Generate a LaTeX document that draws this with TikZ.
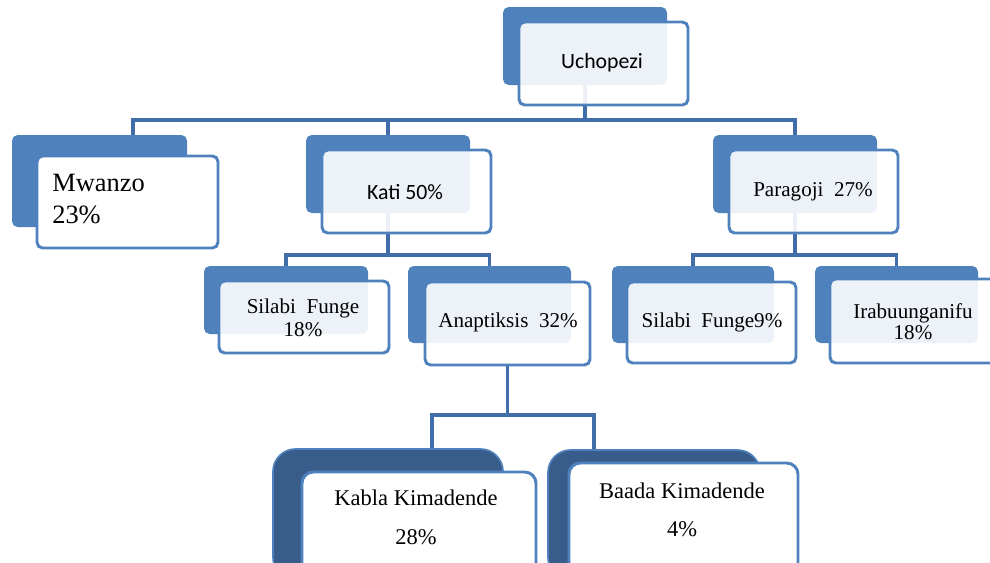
\documentclass[tikz,border=0pt]{standalone}
\usepackage{fontspec}
\setmainfont{Liberation Serif}
\newfontfamily\calibri{Carlito}
\usetikzlibrary{fit,backgrounds}

\begin{document}
\begin{tikzpicture}[%
        % one unit is one pixel of the sketch, y runs down
        x=0.025cm,y=-0.025cm,
        % boxes
        backbox/.style={fill=boxblue, draw=none, rounded corners=4pt, inner sep=0pt},
        deepbox/.style={fill=deepblue, draw=boxblue, line width=1.2pt, rounded corners=16pt, inner sep=0pt},
        frontbox/.style={fill=white, draw=boxblue, line width=2.1pt, rounded corners=4pt, inner sep=0pt},
        tintbox/.style={frontbox, fill opacity=0.9},
        roundbox/.style={frontbox, rounded corners=8pt},
        % texts
        txt/.style={font=\fontsize{15}{16.3}\selectfont, align=center, inner sep=0pt},
        sanstxt/.style={font=\calibri\fontsize{15.5}{18}\selectfont, inner sep=0pt},
        % connectors
        link/.style={draw=linkblue, line width=2.5pt},
        ]

        \definecolor{boxblue}{RGB}{79, 129, 189}
        \definecolor{deepblue}{RGB}{56, 93, 138}
        \definecolor{linkblue}{RGB}{65, 110, 170}

        \useasboundingbox (0,0) rectangle (990,562);

        % top
        \node[backbox, fit={(503,7) (667,85)}] (ucho-b) {};
        \node[tintbox, fit={(519,22) (688,105)}] (ucho) {};
        \node[sanstxt] (ucho-t) at (602,63) {Uchopezi};

        % first row
        \node[backbox, fit={(12,135) (187,227)}] (mwanzo-b) {};
        \node[frontbox, fit={(37,156) (218,248)}] (mwanzo) {};
        \node[txt, align=left, anchor=west, font=\fontsize{18.8}{22.7}\selectfont] (mwanzo-t) at (52,199) {Mwanzo\\23\%};

        \node[backbox, fit={(306,135) (470,213)}] (kati-b) {};
        \node[tintbox, fit={(322,150) (491,233)}] (kati) {};
        \node[sanstxt] (kati-t) at (405,192) {Kati 50\%};

        \node[backbox, fit={(713,135) (877,213)}] (para-b) {};
        \node[tintbox, fit={(729,150) (898,233)}] (para) {};
        \node[txt] (para-t) at (813,192) {Paragoji\ \ 27\%};

        % second row
        \node[backbox, fit={(204,266) (368,334)}] (silabi-b) {};
        \node[tintbox, fit={(219,281) (389,353)}] (silabi) {};
        \node[txt] (silabi-t) at (303,318) {Silabi\ \ Funge\\18\%};

        \node[backbox, fit={(408,266) (571,343)}] (anap-b) {};
        \node[tintbox, fit={(425,282) (590,365)}] (anap) {};
        \node[txt] (anap-t) at (508,322) {Anaptiksis\ \ 32\%};

        \node[backbox, fit={(612,266) (774,343)}] (silabi2-b) {};
        \node[tintbox, fit={(627,282) (796,363)}] (silabi2) {};
        \node[txt] (silabi2-t) at (712,322) {Silabi\ \ Funge9\%};

        \node[backbox, fit={(815,266) (978,343)}] (ira-b) {};
        \node[tintbox, fit={(830,279) (1002,363)}] (ira) {};
        \node[txt, font=\fontsize{15}{15}\selectfont] (ira-t) at (913,322) {Irabuunganifu\\18\%};

        % third row
        \node[deepbox, fit={(273,449) (503,580)}] (kabla-b) {};
        \node[roundbox, fit={(302,472) (536,575)}] (kabla) {};
        \node[txt, font=\fontsize{16}{27.7}\selectfont] (kabla-t) at (416,517) {Kabla Kimadende\\28\%};

        \node[deepbox, fit={(548,450) (760,580)}] (baada-b) {};
        \node[roundbox, fit={(569,463) (798,575)}] (baada) {};
        \node[txt, font=\fontsize{16}{27}\selectfont] (baada-t) at (682,510) {Baada Kimadende\\4\%};

        % connectors, kept under the boxes
        \coordinate (mwanzo-in) at (133,135);
        \coordinate (kabla-in) at (432,449);
        \coordinate (baada-in) at (594,450);
        \begin{scope}[on background layer]
            \draw[link] (ucho-b.south) -- ++(0,35);
            \draw[link] (mwanzo-in) |- (para-b.north |- 0,120) -- (para-b.north);
            \draw[link] (kati-b.north) -- ++(0,-15);

            \draw[link] (kati-b.south) -- ++(0,42);
            \draw[link] (silabi-b.north) |- (anap-b.north |- 0,255) -- (anap-b.north);
            \draw[link] (para-b.south) -- ++(0,42);
            \draw[link] (silabi2-b.north) |- (ira-b.north |- 0,255) -- (ira-b.north);

            \draw[link] (anap.south) -- ++(0,50);
            \draw[link] (kabla-in) |- (baada-in |- 0,415) -- (baada-in);
        \end{scope}

    \end{tikzpicture}
\end{document}
